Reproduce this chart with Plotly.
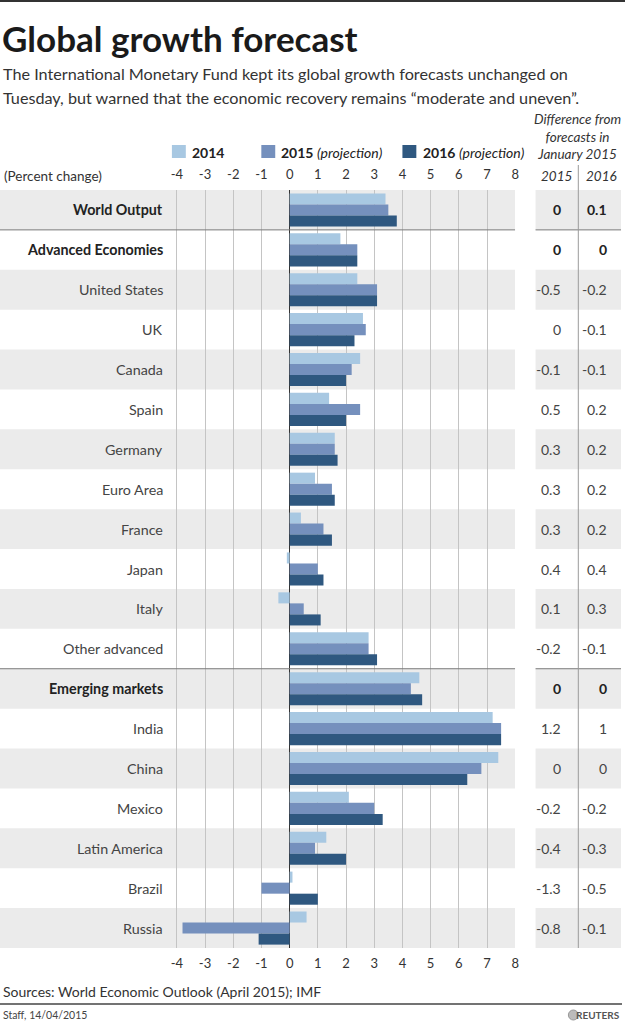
import plotly.graph_objects as go

W, H = 629, 1024

categories = ["World Output", "Advanced Economies", "United States", "UK", "Canada",
              "Spain", "Germany", "Euro Area", "France", "Japan", "Italy",
              "Other advanced", "Emerging markets", "India", "China", "Mexico",
              "Latin America", "Brazil", "Russia"]
bold_rows = ["World Output", "Advanced Economies", "Emerging markets"]

v2014 = [3.4, 1.8, 2.4, 2.6, 2.5, 1.4, 1.6, 0.9, 0.4, -0.1, -0.4, 2.8, 4.6, 7.2, 7.4, 2.1, 1.3, 0.1, 0.6]
v2015 = [3.5, 2.4, 3.1, 2.7, 2.2, 2.5, 1.6, 1.5, 1.2, 1.0, 0.5, 2.8, 4.3, 7.5, 6.8, 3.0, 0.9, -1.0, -3.8]
v2016 = [3.8, 2.4, 3.1, 2.3, 2.0, 2.0, 1.7, 1.6, 1.5, 1.2, 1.1, 3.1, 4.7, 7.5, 6.3, 3.3, 2.0, 1.0, -1.1]

diff2015 = ["0", "0", "-0.5", "0", "-0.1", "0.5", "0.3", "0.3", "0.3", "0.4", "0.1", "-0.2",
            "0", "1.2", "0", "-0.2", "-0.4", "-1.3", "-0.8"]
diff2016 = ["0.1", "0", "-0.2", "-0.1", "-0.1", "0.2", "0.2", "0.2", "0.2", "0.4", "0.3", "-0.1",
            "0", "1", "0", "-0.2", "-0.3", "-0.5", "-0.1"]

tick_vals = [-4, -3, -2, -1, 0, 1, 2, 3, 4, 5, 6, 7, 8]
series_names = ["2014", "2015", "2016"]
colors = ["#a8c8e2", "#7590bd", "#2f5880"]

subtitle_lines = ["The International Monetary Fund kept its global growth forecasts unchanged on",
                  "Tuesday, but warned that the economic recovery remains \u201cmoderate and uneven\u201d."]

FONT = "Lato"
BAND = "#ebebeb"

def px(xp):
    return xp / W

def py(yp):
    return 1 - yp / H

x_left_px, x_zero_px, x_right_px = 0, 291.5, 518.5
unit = (x_right_px - x_zero_px) / 8.0
x_min = -(x_zero_px - x_left_px) / unit

ys = list(range(len(categories)))

fig = go.Figure()
for name, vals, col in zip(series_names, [v2014, v2015, v2016], colors):
    fig.add_trace(go.Bar(x=vals, y=ys, orientation="h", name=name,
                         marker=dict(color=col, line=dict(width=0)),
                         hoverinfo="skip", showlegend=False))
fig.add_trace(go.Scatter(x=[0], y=[0], xaxis="x2", mode="markers",
                         marker=dict(opacity=0), hoverinfo="skip", showlegend=False))

shapes = []
annotations = []

for i, c in enumerate(categories):
    if i % 2 == 0:
        shapes.append(dict(type="rect", xref="x", yref="y", x0=x_min, x1=8,
                           y0=i - 0.5, y1=i + 0.5, fillcolor=BAND, line=dict(width=0),
                           layer="below"))
        shapes.append(dict(type="rect", xref="paper", yref="y", x0=px(539), x1=px(625),
                           y0=i - 0.5, y1=i + 0.5, fillcolor=BAND, line=dict(width=0),
                           layer="below"))
    b = c in bold_rows
    col_t = "#222" if b else "#444"
    annotations.append(dict(xref="paper", yref="y", x=px(166), y=i, xanchor="right",
                            yanchor="middle", showarrow=False,
                            text=("<b>%s</b>" % c) if b else c,
                            font=dict(family=FONT, size=14.3, color=col_t)))
    annotations.append(dict(xref="paper", yref="y", x=px(567), y=i, xanchor="right",
                            yanchor="middle", showarrow=False,
                            text=("<b>%s</b>" % diff2015[i]) if b else diff2015[i],
                            font=dict(family=FONT, size=14, color=col_t)))
    annotations.append(dict(xref="paper", yref="y", x=px(613), y=i, xanchor="right",
                            yanchor="middle", showarrow=False,
                            text=("<b>%s</b>" % diff2016[i]) if b else diff2016[i],
                            font=dict(family=FONT, size=14, color=col_t)))

for yv in [0.5, 11.5]:
    shapes.append(dict(type="line", xref="x", yref="y", x0=x_min, x1=8, y0=yv, y1=yv,
                       line=dict(color="#7a7a7a", width=1)))
    shapes.append(dict(type="line", xref="paper", yref="y", x0=px(539), x1=px(625), y0=yv, y1=yv,
                       line=dict(color="#7a7a7a", width=1)))

shapes.append(dict(type="line", xref="paper", yref="paper", x0=px(582), x1=px(582),
                   y0=py(948), y1=py(165), line=dict(color="#9a9a9a", width=1)))

shapes.append(dict(type="line", xref="paper", yref="paper", x0=0, x1=1, y0=py(1), y1=py(1),
                   line=dict(color="#333", width=2)))
shapes.append(dict(type="line", xref="paper", yref="paper", x0=0, x1=px(626), y0=py(1004), y1=py(1004),
                   line=dict(color="#444", width=1.5)))

leg = [(173, 187, 191, "<b>2014</b>"),
       (263, 277, 281, "<b>2015</b> <i>(projection)</i>"),
       (405, 419, 424, "<b>2016</b> <i>(projection)</i>")]
for (a, b2, t, txt), col in zip(leg, colors):
    shapes.append(dict(type="rect", xref="paper", yref="paper", x0=px(a), x1=px(b2),
                       y0=py(158), y1=py(145), fillcolor=col, line=dict(width=0)))
    annotations.append(dict(xref="paper", yref="paper", x=px(t), y=py(152), xanchor="left",
                            yanchor="middle", showarrow=False, text=txt,
                            font=dict(family=FONT, size=14, color="#222")))

annotations.append(dict(xref="paper", yref="paper", x=0, y=py(38), xanchor="left", yanchor="middle",
                        showarrow=False, text="<b>Global growth forecast</b>",
                        font=dict(family=FONT, size=35, color="#1a1a1a")))
for line_txt, yl in zip(subtitle_lines, [73, 97]):
    annotations.append(dict(xref="paper", yref="paper", x=px(1), y=py(yl), xanchor="left",
                            yanchor="middle", showarrow=False, text=line_txt,
                            font=dict(family=FONT, size=16.2, color="#333")))

annotations.append(dict(xref="paper", yref="paper", x=px(581), y=py(136), xanchor="center", yanchor="middle",
                        showarrow=False, align="center",
                        text="<i>Difference from<br>forecasts in<br>January 2015</i>",
                        font=dict(family=FONT, size=13.5, color="#333")))
for xc, t in [(560, "2015"), (605, "2016")]:
    annotations.append(dict(xref="paper", yref="paper", x=px(xc), y=py(176), xanchor="center",
                            yanchor="middle", showarrow=False, text="<i>%s</i>" % t,
                            font=dict(family=FONT, size=13.5, color="#333")))

annotations.append(dict(xref="paper", yref="paper", x=px(2), y=py(176), xanchor="left", yanchor="middle",
                        showarrow=False, text="(Percent change)",
                        font=dict(family=FONT, size=13.5, color="#333")))

annotations.append(dict(xref="paper", yref="paper", x=px(1), y=py(991), xanchor="left", yanchor="middle",
                        showarrow=False, text="Sources: World Economic Outlook (April 2015); IMF",
                        font=dict(family=FONT, size=14, color="#333")))
annotations.append(dict(xref="paper", yref="paper", x=px(1), y=py(1015), xanchor="left", yanchor="middle",
                        showarrow=False, text="Staff, 14/04/2015",
                        font=dict(family=FONT, size=10.5, color="#444")))
annotations.append(dict(xref="paper", yref="paper", x=px(626), y=py(1015), xanchor="right", yanchor="middle",
                        showarrow=False, text="<b>REUTERS</b>",
                        font=dict(family=FONT, size=10, color="#555")))
shapes.append(dict(type="circle", xref="paper", yref="paper", x0=px(572), x1=px(582),
                   y0=py(1020), y1=py(1010), fillcolor="#bbbbbb", line=dict(color="#999", width=1)))

axis_common = dict(range=[x_min, 8], tickmode="array", tickvals=tick_vals,
                   ticktext=[str(v) for v in tick_vals],
                   tickfont=dict(family=FONT, size=13, color="#333"),
                   ticks="outside", tickcolor="rgba(0,0,0,0)", fixedrange=True)

fig.update_layout(
    width=W, height=H,
    margin=dict(l=0, r=0, t=0, b=0),
    paper_bgcolor="white", plot_bgcolor="white",
    barmode="group", bargap=0.17, bargroupgap=0,
    xaxis=dict(domain=[0, px(x_right_px)], side="bottom", showgrid=True, gridcolor="#c4c4c4",
               gridwidth=1, zeroline=True, zerolinecolor="#333", zerolinewidth=1,
               showline=False, ticklen=3, **axis_common),
    xaxis2=dict(domain=[0, px(x_right_px)], overlaying="x", side="top", showgrid=False,
                zeroline=False, showline=False, ticklen=5, matches="x", anchor="y", **axis_common),
    yaxis=dict(domain=[py(948), py(190)], range=[len(categories) - 0.5, -0.5],
               showticklabels=False, showgrid=False, zeroline=False, fixedrange=True),
    shapes=shapes,
    annotations=annotations,
    showlegend=False,
    font=dict(family=FONT),
)

fig.write_html("out.html", config={"displayModeBar": False},
               post_script="document.body.style.margin='0';document.body.style.overflow='hidden';")
